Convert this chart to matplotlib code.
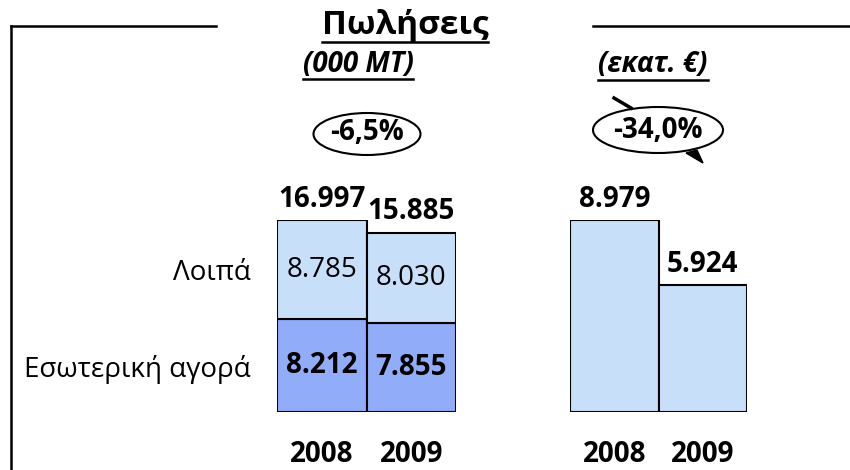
import numpy as np
import matplotlib
matplotlib.use("Agg")
from matplotlib import pyplot as plt
from matplotlib.patches import Ellipse, Polygon
from matplotlib.lines import Line2D

plt.rcParams['font.family'] = ['Open Sans', 'DejaVu Sans']

years = ["2008", "2009"]
domestic = [8212, 7855]      # Εσωτερική αγορά (000 MT)
other = [8785, 8030]         # Λοιπά (000 MT)
revenue = [8979, 5924]       # εκατ. €
row_labels = ["Εσωτερική αγορά", "Λοιπά"]

light = "#C8DFF9"
dark = "#91ADFA"

W, H = 850, 470
fig = plt.figure(figsize=(W / 100, H / 100), dpi=100)


def fx(x):
    return x / W


def fy(y):
    return 1 - y / H


def fmt(v):
    return f"{v:,}".replace(",", ".")


def pct(a, b):
    return f"{(b - a) / a * 100:.1f}%".replace(".", ",")


totals = [d + o for d, o in zip(domestic, other)]
FS = 20

# left panel: volumes
ax1 = fig.add_axes([fx(277), fy(412), fx(456) - fx(277), fy(220) - fy(412)])
x = np.arange(len(years))
ax1.bar(x, domestic, width=1, color=dark, edgecolor="black", linewidth=1.5)
ax1.bar(x, other, width=1, bottom=domestic, color=light, edgecolor="black", linewidth=1.5)
ax1.set_xlim(-0.5, 1.5)
ax1.set_ylim(0, max(totals))
for i in range(len(years)):
    ax1.text(x[i], domestic[i] / 2, fmt(domestic[i]), ha="center", va="center",
             fontsize=FS, fontweight="bold")
    ax1.text(x[i], domestic[i] + other[i] / 2, fmt(other[i]), ha="center", va="center",
             fontsize=FS)
    ax1.annotate(fmt(totals[i]), (x[i], totals[i]), xytext=(0, 15), textcoords="offset points",
                 ha="center", va="center", fontsize=FS, fontweight="bold")
ax1.set_yticks([domestic[0] / 2, domestic[0] + other[0] / 2], row_labels, fontsize=FS)

# right panel: revenue
ax2 = fig.add_axes([fx(570), fy(412), fx(747) - fx(570), fy(220) - fy(412)])
ax2.bar(x, revenue, width=1, color=light, edgecolor="black", linewidth=1.5)
ax2.set_xlim(-0.5, 1.5)
ax2.set_ylim(0, max(revenue))
for i in range(len(years)):
    ax2.annotate(fmt(revenue[i]), (x[i], revenue[i]), xytext=(0, 15), textcoords="offset points",
                 ha="center", va="center", fontsize=FS, fontweight="bold")
ax2.set_yticks([])

for ax in (ax1, ax2):
    ax.set_xticks(x, years, fontsize=FS, fontweight="bold")
    ax.tick_params(length=0)
    ax.tick_params(axis="x", pad=20)
    ax.tick_params(axis="y", pad=19)
    for s in ax.spines.values():
        s.set_visible(False)

# frame lines
for xs, ys in [([11, 216], [26, 26]), ([593, 850], [26, 26]), ([11, 11], [26, 470])]:
    fig.add_artist(Line2D([fx(v) for v in xs], [fy(v) for v in ys], color="black", lw=1.8))

# titles
title = fig.text(fx(405), fy(26), "Πωλήσεις", ha="center", va="center", fontsize=24, fontweight="bold")
sub1 = fig.text(fx(358), fy(65), "(000 MT)", ha="center", va="center", fontsize=20,
                fontweight="bold", style="italic")
sub2 = fig.text(fx(653), fy(65), "(εκατ. €)", ha="center", va="center", fontsize=20,
                fontweight="bold", style="italic")

# change bubbles
fig.add_artist(Ellipse((fx(367), fy(134)), 107 / W, 42 / H, transform=fig.transFigure,
                       facecolor="white", edgecolor="black", lw=1.5))
fig.text(fx(367), fy(133), "-" + pct(totals[0], totals[1]).lstrip("-"), ha="center", va="center",
         fontsize=FS, fontweight="bold")
fig.add_artist(Ellipse((fx(658), fy(130)), 130 / W, 46 / H, transform=fig.transFigure,
                       facecolor="white", edgecolor="black", lw=1.5))
fig.text(fx(658), fy(130), "-" + pct(revenue[0], revenue[1]).lstrip("-"), ha="center", va="center",
         fontsize=FS, fontweight="bold")
fig.add_artist(Line2D([fx(614), fx(631)], [fy(98), fy(108)], color="black", lw=2.5))
fig.add_artist(Polygon([(fx(686), fy(153)), (fx(703), fy(163)), (fx(697), fy(150))],
                       closed=True, transform=fig.transFigure, color="black"))

# underlines
fig.canvas.draw()
r = fig.canvas.get_renderer()
for t, yy in [(title, 42), (sub1, 79), (sub2, 80)]:
    bb = t.get_window_extent(r)
    fig.add_artist(Line2D([bb.x0 / W, bb.x1 / W], [fy(yy), fy(yy)], color="black", lw=1.8))

fig.savefig("out.png", dpi=100)
